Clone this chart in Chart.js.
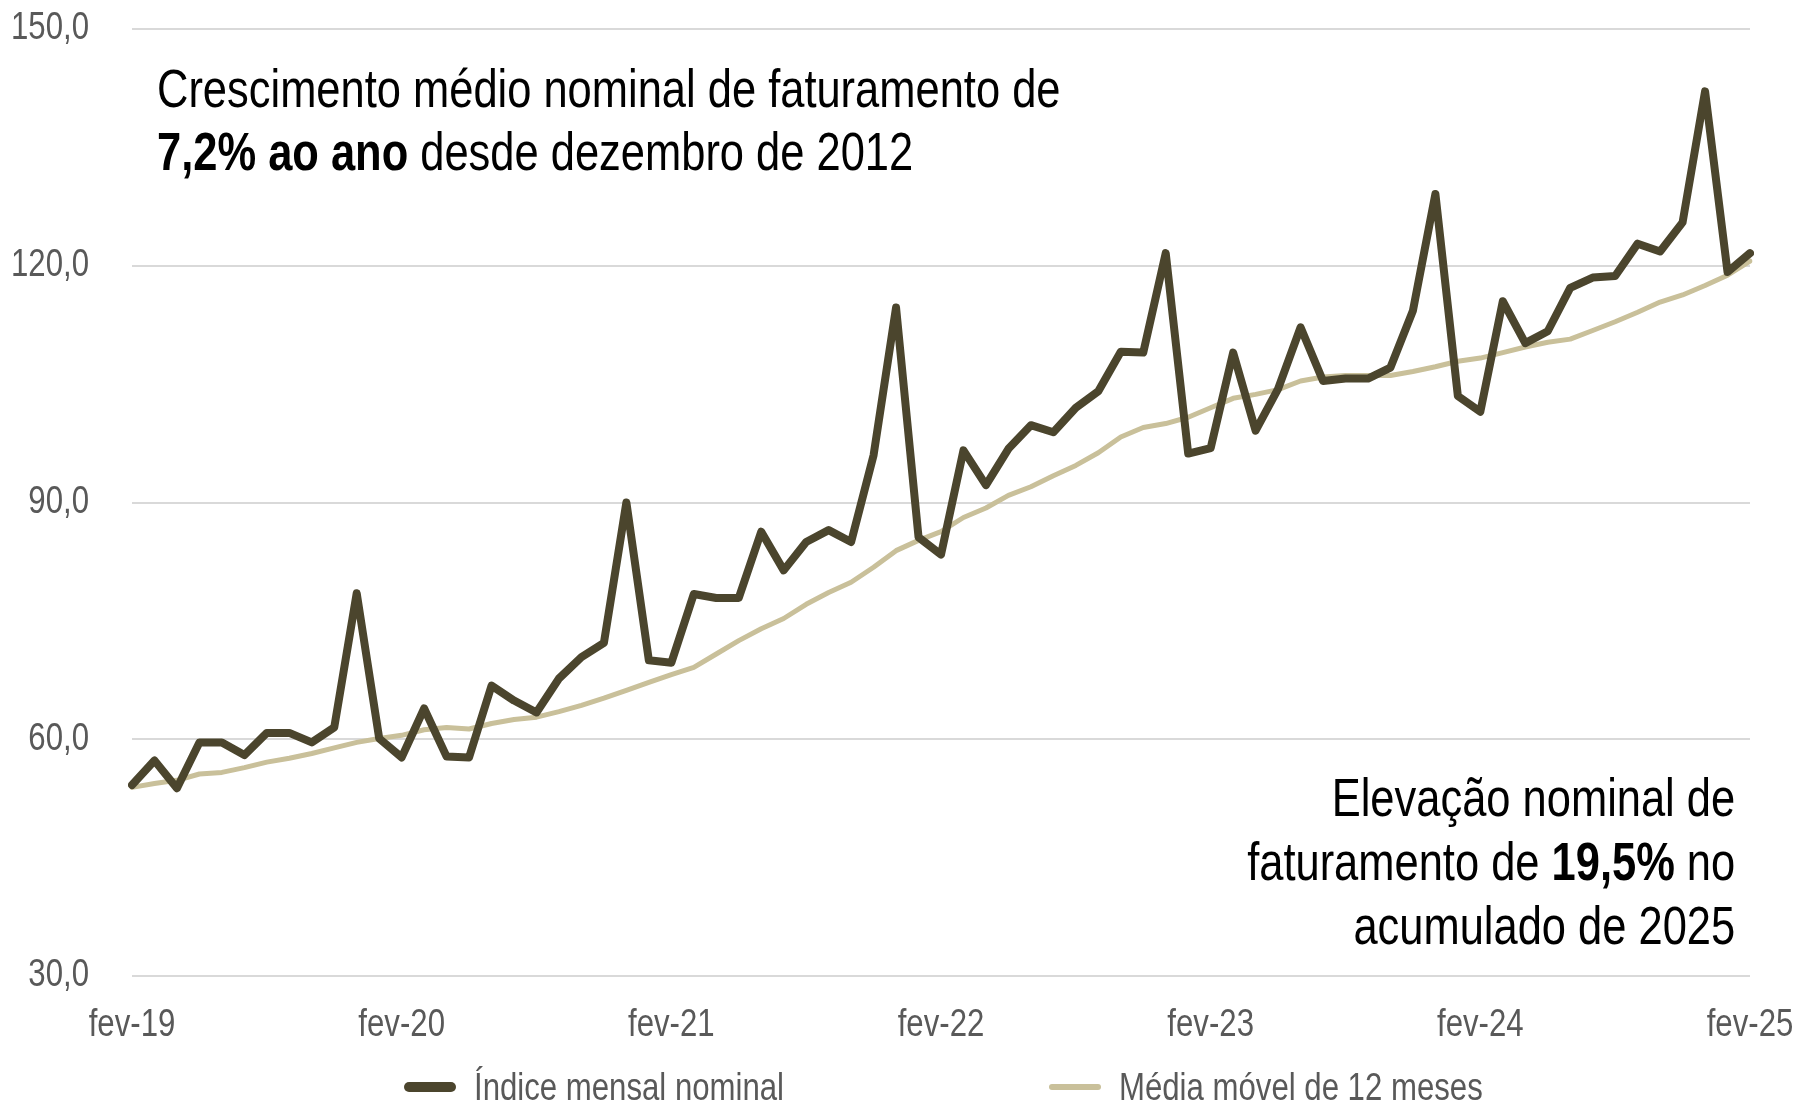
<!DOCTYPE html>
<html lang="pt-BR">
<head>
<meta charset="utf-8">
<title>Faturamento nominal</title>
<script src="https://cdn.jsdelivr.net/npm/chart.js@4"></script>
<style>
  html, body { margin: 0; padding: 0; background: #fff; }
  body { font-family: 'Liberation Sans', Arial, sans-serif; }
  #wrap { position: relative; width: 1798px; height: 1107px; }
  /* no narrow face installed: squeeze Liberation Sans to Arial Narrow width */
  .note { position: absolute; color: #000; font-size: 53px; white-space: nowrap; }
  .note b { font-weight: bold; }
  #note1 { left: 157px; top: 57px; line-height: 63px; transform: scaleX(0.82); transform-origin: left top; }
  #note2 { right: 63px; top: 766px; line-height: 64px; text-align: right; transform: scaleX(0.82); transform-origin: right top; }
  .leg { position: absolute; top: 1064px; height: 46px; display: flex; align-items: center;
         font-size: 38px; color: #595959; white-space: nowrap; }
  .leg .swatch { display: inline-block; width: 52px; border-radius: 6px; margin-right: 18px; }
  .leg .txt { display: inline-block; transform: scaleX(0.82); transform-origin: left center; }
</style>
</head>
<body>
<div id="wrap">
  <canvas id="myChart"></canvas>
  <div class="note" id="note1">Crescimento médio nominal de faturamento de<br><b>7,2% ao ano</b> desde dezembro de 2012</div>
  <div class="note" id="note2">Elevação nominal de<br>faturamento de <b>19,5%</b> no<br>acumulado de 2025</div>
  <div class="leg" style="left:404px"><span class="swatch" style="height:10px;background:#4b452d"></span><span class="txt">Índice mensal nominal</span></div>
  <div class="leg" style="left:1049px"><span class="swatch" style="height:6px;background:#c9c09a"></span><span class="txt">Média móvel de 12 meses</span></div>
</div>
<script>
// months from fev-19 to fev-25
var monthNames = ["jan","fev","mar","abr","mai","jun","jul","ago","set","out","nov","dez"];
var xValues = [];
for (var k = 0; k < 73; k++) {
    var m = (k + 1) % 12;
    var yr = 19 + Math.floor((k + 1) / 12);
    xValues.push(monthNames[m] + "-" + yr);
}

// Índice mensal nominal
var indiceMensal = [54.2, 57.3, 53.8, 59.6, 59.6, 58.0, 60.8, 60.8, 59.6, 61.5,
    78.5, 60.1, 57.7, 63.9, 57.8, 57.7, 66.8, 64.9, 63.4, 67.7,
    70.4, 72.2, 90.0, 70.0, 69.7, 78.4, 77.9, 77.9, 86.3, 81.4,
    85.0, 86.5, 85.0, 96.0, 114.7, 85.6, 83.4, 96.6, 92.2, 96.8,
    99.8, 98.9, 102.0, 104.1, 109.1, 109.0, 121.6, 96.2, 96.9, 109.0,
    99.1, 104.4, 112.2, 105.4, 105.7, 105.7, 107.1, 114.3, 129.1, 103.5,
    101.5, 115.5, 110.2, 111.7, 117.2, 118.5, 118.7, 122.8, 121.8, 125.5,
    142.1, 119.2, 121.6];

// Média móvel de 12 meses
var mediaMovel = [53.9, 54.4, 54.8, 55.6, 55.8, 56.4, 57.1, 57.6, 58.2, 58.9,
    59.6, 60.1, 60.5, 61.2, 61.5, 61.3, 62.0, 62.5, 62.8, 63.5,
    64.3, 65.2, 66.2, 67.2, 68.2, 69.1, 70.8, 72.5, 74.0, 75.3,
    77.1, 78.6, 79.9, 81.8, 83.9, 85.2, 86.3, 88.1, 89.3, 90.9,
    92.0, 93.4, 94.7, 96.3, 98.3, 99.5, 100.0, 100.8, 102.0, 103.2,
    103.7, 104.3, 105.4, 105.9, 106.1, 106.1, 106.1, 106.6, 107.2, 107.9,
    108.3, 109.0, 109.7, 110.3, 110.7, 111.8, 112.9, 114.1, 115.4, 116.3,
    117.5, 118.8, 120.6];

var yTicks = [30, 60, 90, 120, 150];

// canvas text: same squeeze for fonts asking for "Narrow"
var NARROW = 0.82;
var origFill = CanvasRenderingContext2D.prototype.fillText;
var origMeasure = CanvasRenderingContext2D.prototype.measureText;
CanvasRenderingContext2D.prototype.fillText = function(t, x, y) {
    if (this.font.indexOf("Narrow") < 0) return origFill.apply(this, arguments);
    this.save();
    this.translate(x, y);
    this.scale(NARROW, 1);
    origFill.call(this, t, 0, 0);
    this.restore();
};
CanvasRenderingContext2D.prototype.measureText = function(t) {
    var mt = origMeasure.call(this, t);
    if (this.font.indexOf("Narrow") < 0) return mt;
    return { width: mt.width * NARROW,
             actualBoundingBoxAscent: mt.actualBoundingBoxAscent,
             actualBoundingBoxDescent: mt.actualBoundingBoxDescent };
};

Chart.defaults.font.family = "'Arial Narrow', 'Liberation Sans', sans-serif";

const myChart = new Chart("myChart", {
    type: "line",
    data: {
        labels: xValues,
        datasets: [{
            label: "Média móvel de 12 meses",
            data: mediaMovel,
            borderColor: "#c9c09a",
            borderWidth: 5,
            borderJoinStyle: "round",
            borderCapStyle: "round",
            pointRadius: 0,
            tension: 0,
            order: 2
        }, {
            label: "Índice mensal nominal",
            data: indiceMensal,
            borderColor: "#4b452d",
            borderWidth: 8,
            borderJoinStyle: "round",
            borderCapStyle: "round",
            pointRadius: 0,
            tension: 0,
            order: 1
        }]
    },
    options: {
        responsive: true,
        maintainAspectRatio: false,
        animation: false,
        layout: { padding: { left: 0, top: 29, right: 48, bottom: 65 } },
        plugins: {
            legend: { display: false },
            tooltip: { enabled: false }
        },
        scales: {
            x: {
                grid: { color: "transparent", drawTicks: true, tickLength: 27 },
                border: { display: false },
                ticks: {
                    autoSkip: false,
                    maxRotation: 0,
                    padding: 0,
                    color: "#595959",
                    font: { size: 38 },
                    callback: function(val, i) { return i % 12 === 0 ? xValues[i] : null; }
                },
                afterFit: function(scale) { scale.height = 66; }
            },
            y: {
                min: yTicks[0],
                max: yTicks[yTicks.length - 1],
                grid: { color: "#d9d9d9", lineWidth: 2, drawTicks: true, tickLength: 43, tickColor: "transparent" },
                border: { display: false },
                ticks: {
                    stepSize: 30,
                    padding: 0,
                    color: "#595959",
                    font: { size: 38 },
                    callback: function(v) { return v.toFixed(1).replace(".", ","); }
                },
                afterFit: function(scale) { scale.width = 132; }
            }
        }
    }
});
</script>
</body>
</html>
